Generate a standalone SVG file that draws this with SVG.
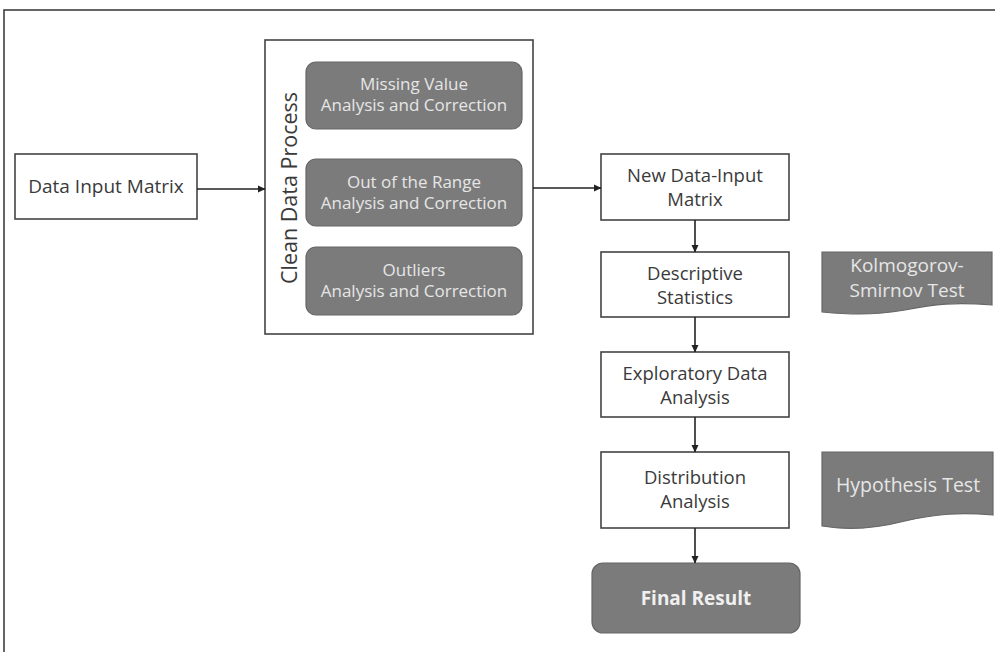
<svg xmlns="http://www.w3.org/2000/svg" width="995" height="652" viewBox="0 0 995 652">
<defs>
<marker id="ah" markerWidth="8" markerHeight="8" refX="7" refY="4" orient="auto" markerUnits="userSpaceOnUse">
<path d="M0,0.5 L7.5,4 L0,7.5 Z" fill="#222"/>
</marker>
<style>
.box{fill:#fff;stroke:#444;stroke-width:1.6}
.grey{fill:#7b7b7b;stroke:#666;stroke-width:1.2}
.t{font-family:"Open Sans",Lato,sans-serif;font-size:18.5px;fill:#3a3a3a;text-anchor:middle}
.w{font-family:"Open Sans",Lato,sans-serif;font-size:17px;fill:#e6e6e6;text-anchor:middle}
.d{font-size:19px}
.c{stroke:#222;stroke-width:1.6;fill:none;marker-end:url(#ah)}
</style>
</defs>
<rect width="995" height="652" fill="#fff"/>
<path d="M995,10 H4 V652" fill="none" stroke="#333" stroke-width="1.5"/>

<g id="data-input">
<rect class="box" x="15" y="154" width="182" height="65"/>
<text class="t" x="106" y="193" style="font-size:19px">Data Input Matrix</text>
</g>

<g id="clean-data">
<rect class="box" x="265" y="40" width="268" height="294"/>
<text class="t" x="0" y="0" transform="translate(297,188) rotate(-90)" style="font-size:21.5px">Clean Data Process</text>
</g>

<g id="missing">
<rect class="grey" x="306" y="62" width="216" height="67" rx="10"/>
<text class="w" x="414" y="90">Missing Value</text>
<text class="w" x="414" y="111">Analysis and Correction</text>
</g>

<g id="range">
<rect class="grey" x="306" y="159" width="216" height="67" rx="10"/>
<text class="w" x="414" y="188">Out of the Range</text>
<text class="w" x="414" y="209">Analysis and Correction</text>
</g>

<g id="outliers">
<rect class="grey" x="306" y="247" width="216" height="68" rx="10"/>
<text class="w" x="414" y="276">Outliers</text>
<text class="w" x="414" y="297">Analysis and Correction</text>
</g>

<g id="new-data">
<rect class="box" x="601" y="154" width="188" height="66"/>
<text class="t" x="695" y="182">New Data-Input</text>
<text class="t" x="695" y="206">Matrix</text>
</g>

<g id="descriptive">
<rect class="box" x="601" y="252" width="188" height="65"/>
<text class="t" x="695" y="280">Descriptive</text>
<text class="t" x="695" y="304">Statistics</text>
</g>

<g id="exploratory">
<rect class="box" x="601" y="352" width="188" height="65"/>
<text class="t" x="695" y="380">Exploratory Data</text>
<text class="t" x="695" y="404">Analysis</text>
</g>

<g id="distribution">
<rect class="box" x="601" y="452" width="188" height="76"/>
<text class="t" x="695" y="484">Distribution</text>
<text class="t" x="695" y="508">Analysis</text>
</g>

<g id="final">
<rect class="grey" x="592" y="563" width="208" height="70" rx="11"/>
<text class="w d" x="696" y="605" style="font-weight:bold;fill:#f0f0f0">Final Result</text>
</g>

<g id="ks-test">
<path class="grey" d="M822,252 H992 V305 C955,302 935,304 905,310 C870,316 845,314 822,312 Z"/>
<text class="w d" x="907" y="272">Kolmogorov-</text>
<text class="w d" x="907" y="297">Smirnov Test</text>
</g>

<g id="hypothesis">
<path class="grey" d="M822,452 H993 V515 C960,512 935,514 905,521 C870,530 845,530 822,526 Z"/>
<text class="w" x="908" y="492" style="font-size:19.5px">Hypothesis Test</text>
</g>

<g id="connectors">
<line class="c" x1="197" y1="189" x2="265" y2="189"/>
<line class="c" x1="533" y1="188" x2="601" y2="188"/>
<line class="c" x1="695" y1="220" x2="695" y2="252"/>
<line class="c" x1="695" y1="317" x2="695" y2="352"/>
<line class="c" x1="695" y1="417" x2="695" y2="452"/>
<line class="c" x1="695" y1="528" x2="695" y2="563"/>
</g>
</svg>
